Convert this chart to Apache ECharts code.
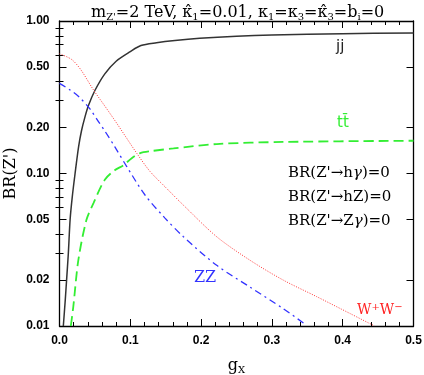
<!DOCTYPE html>
<html><head><meta charset="utf-8">
<script src="https://cdn.jsdelivr.net/npm/echarts@6/dist/echarts.min.js"></script>
<style>html,body{margin:0;padding:0;background:#fff}#c{width:424px;height:375px}</style>
</head><body><div id="c"></div>
<script>
// ---- data ----
const jjX = [0.0054,0.008,0.010,0.0125,0.015,0.018,0.022,0.027,0.031,0.036,0.041,0.05,0.064,0.08,0.10,0.115,0.137,0.163,0.198,0.25,0.30,0.40,0.50];
const jjY = [0.01,0.0145,0.020,0.030,0.050,0.070,0.10,0.15,0.19,0.235,0.28,0.35,0.45,0.545,0.63,0.69,0.72,0.745,0.77,0.795,0.81,0.825,0.835];

const ttX = [0.016,0.0195,0.0266,0.038,0.048,0.064,0.078,0.09,0.102,0.114,0.128,0.161,0.222,0.316,0.50];
const ttY = [0.010,0.0134,0.027,0.0495,0.064,0.091,0.105,0.113,0.126,0.136,0.140,0.146,0.156,0.161,0.164];

const zzX = [0.0,0.015,0.027,0.043,0.055,0.064,0.078,0.095,0.121,0.149,0.175,0.222,0.269,0.316,0.349];
const zzY = [0.39,0.353,0.32,0.265,0.219,0.19,0.15,0.111,0.072,0.051,0.0385,0.025,0.018,0.013,0.0101];

const wwX = [0.0,0.017,0.03,0.048,0.064,0.081,0.109,0.128,0.15,0.175,0.222,0.269,0.316,0.363,0.41,0.445];
const wwY = [0.61,0.56,0.48,0.353,0.277,0.213,0.136,0.103,0.081,0.062,0.0385,0.027,0.020,0.0156,0.0121,0.010];

const yMajor = [0.01,0.02,0.05,0.1,0.2,0.5,1];
const yMinor = [0.03,0.04,0.06,0.07,0.08,0.09,0.3,0.4,0.6,0.7,0.8,0.9];

const pairs = (xs, ys) => xs.map((x, i) => [x, ys[i]]);

const chart = echarts.init(document.getElementById('c'), null, {renderer: 'canvas'});

const serif = 'DejaVu Serif';
const sans = 'Liberation Sans';
const black = {color: '#000', width: 1.3};

const xCommon = {
  type: 'value', min: 0, max: 0.5, interval: 0.1,
  axisLine: {show: true, onZero: false, lineStyle: black},
  axisTick: {show: true, inside: true, length: 7, lineStyle: {color: '#000', width: 1}},
  minorTick: {show: true, splitNumber: 5, length: 4, lineStyle: {color: '#000', width: 1}},
  splitLine: {show: false}, minorSplitLine: {show: false}
};

const yCommon = {
  type: 'log', logBase: 10, min: 0.01, max: 1,
  splitLine: {show: false}
};

const option = {
  animation: false,
  backgroundColor: '#fff',
  title: {
    text: "m{s|Z'}=2 TeV, κ̂{s|1}=0.01, κ{s|1}=κ{s|3}=κ̂{s|3}=b{s|i}=0",
    left: 86, top: -1,
    textStyle: {
      fontFamily: serif, fontSize: 16, fontWeight: 'normal', color: '#000',
      rich: {s: {fontFamily: serif, fontSize: 10, padding: [8, 0, 0, 0], color: '#000'}}
    }
  },
  grid: {left: 59.5, right: 10.5, top: 21, bottom: 49, containLabel: false, outerBoundsMode: 'none'},
  xAxis: [
    Object.assign({}, xCommon, {
      position: 'bottom',
      axisLabel: {show: true, margin: 9, fontFamily: sans, fontWeight: 'bold', fontSize: 12, color: '#000',
        formatter: v => v.toFixed(1)},
      name: '{g|g}{s|X}', nameLocation: 'middle', nameGap: 30,
      nameTextStyle: {rich: {
        g: {fontFamily: serif, fontSize: 16, color: '#000'},
        s: {fontFamily: serif, fontSize: 10, color: '#000', padding: [9, 0, 0, 0]}
      }}
    }),
    Object.assign({}, xCommon, {position: 'top', axisLabel: {show: false}})
  ],
  yAxis: [
    Object.assign({}, yCommon, {
      position: 'left',
      axisLine: {show: true, onZero: false, lineStyle: black},
      axisTick: {show: true, inside: true, length: 7, customValues: yMajor, lineStyle: {color: '#000', width: 1}},
      axisLabel: {show: true, customValues: yMajor, margin: 10, fontFamily: sans, fontWeight: 'bold', fontSize: 12, color: '#000',
        formatter: v => Number(v).toFixed(2)},
      name: "BR(Z')", nameLocation: 'middle', nameGap: 41, nameRotate: 90, nameMoveOverlap: false,
      nameTextStyle: {fontFamily: serif, fontSize: 16, color: '#000'}
    }),
    Object.assign({}, yCommon, {
      position: 'right',
      axisLine: {show: true, onZero: false, lineStyle: black},
      axisTick: {show: true, inside: true, length: 7, customValues: yMajor, lineStyle: {color: '#000', width: 1}},
      axisLabel: {show: false}
    }),
    Object.assign({}, yCommon, {
      position: 'left',
      axisLine: {show: false},
      axisTick: {show: true, inside: true, length: 4, customValues: yMinor, lineStyle: {color: '#000', width: 1}},
      axisLabel: {show: false}
    }),
    Object.assign({}, yCommon, {
      position: 'right',
      axisLine: {show: false},
      axisTick: {show: true, inside: true, length: 4, customValues: yMinor, lineStyle: {color: '#000', width: 1}},
      axisLabel: {show: false}
    })
  ],
  series: [
    {name: 'jj', type: 'line', data: pairs(jjX, jjY), showSymbol: false, smooth: 0.3,
      lineStyle: {color: '#333', width: 1.5, type: 'solid'}},
    {name: 'tt', type: 'line', data: pairs(ttX, ttY), showSymbol: false, smooth: 0.3,
      lineStyle: {color: '#33ee33', width: 1.8, type: [10, 5]}},
    {name: 'ZZ', type: 'line', data: pairs(zzX, zzY), showSymbol: false, smooth: 0.3,
      lineStyle: {color: '#3333ff', width: 1.3, type: [7, 4, 2, 4]}},
    {name: 'WW', type: 'line', data: pairs(wwX, wwY), showSymbol: false, smooth: 0.3,
      lineStyle: {color: '#ff3333', width: 1, type: [1, 1.5]}}
  ],
  graphic: [
    {type: 'text', left: 336, top: 40, style: {text: 'jj', fontFamily: 'DejaVu Sans', fontSize: 15, fill: '#222'}},
    {type: 'text', left: 337, top: 116, style: {text: 'tt̄', fontFamily: 'DejaVu Sans', fontSize: 15, fill: '#33ee33'}},
    {type: 'text', left: 194, top: 270, style: {text: 'ZZ', fontFamily: serif, fontSize: 16, fill: '#3333ff'}},
    {type: 'text', left: 357, top: 302, style: {text: 'W{p|+}W{p|−}', fontFamily: serif, fontSize: 14, fill: '#ff2222',
      rich: {p: {fontFamily: serif, fontSize: 10, fill: '#ff2222', padding: [0, 0, 7, 0]}}}},
    {type: 'text', left: 288, top: 166, style: {text: "BR(Z'→h{i|γ})=0", fontFamily: serif, fontSize: 15, fill: '#000',
      rich: {i: {fontFamily: serif, fontStyle: 'italic', fontSize: 15, fill: '#000'}}}},
    {type: 'text', left: 288, top: 190, style: {text: "BR(Z'→hZ)=0", fontFamily: serif, fontSize: 15, fill: '#000'}},
    {type: 'text', left: 288, top: 214, style: {text: "BR(Z'→Z{i|γ})=0", fontFamily: serif, fontSize: 15, fill: '#000',
      rich: {i: {fontFamily: serif, fontStyle: 'italic', fontSize: 15, fill: '#000'}}}}
  ]
};
chart.setOption(option);
</script>
</body></html>
